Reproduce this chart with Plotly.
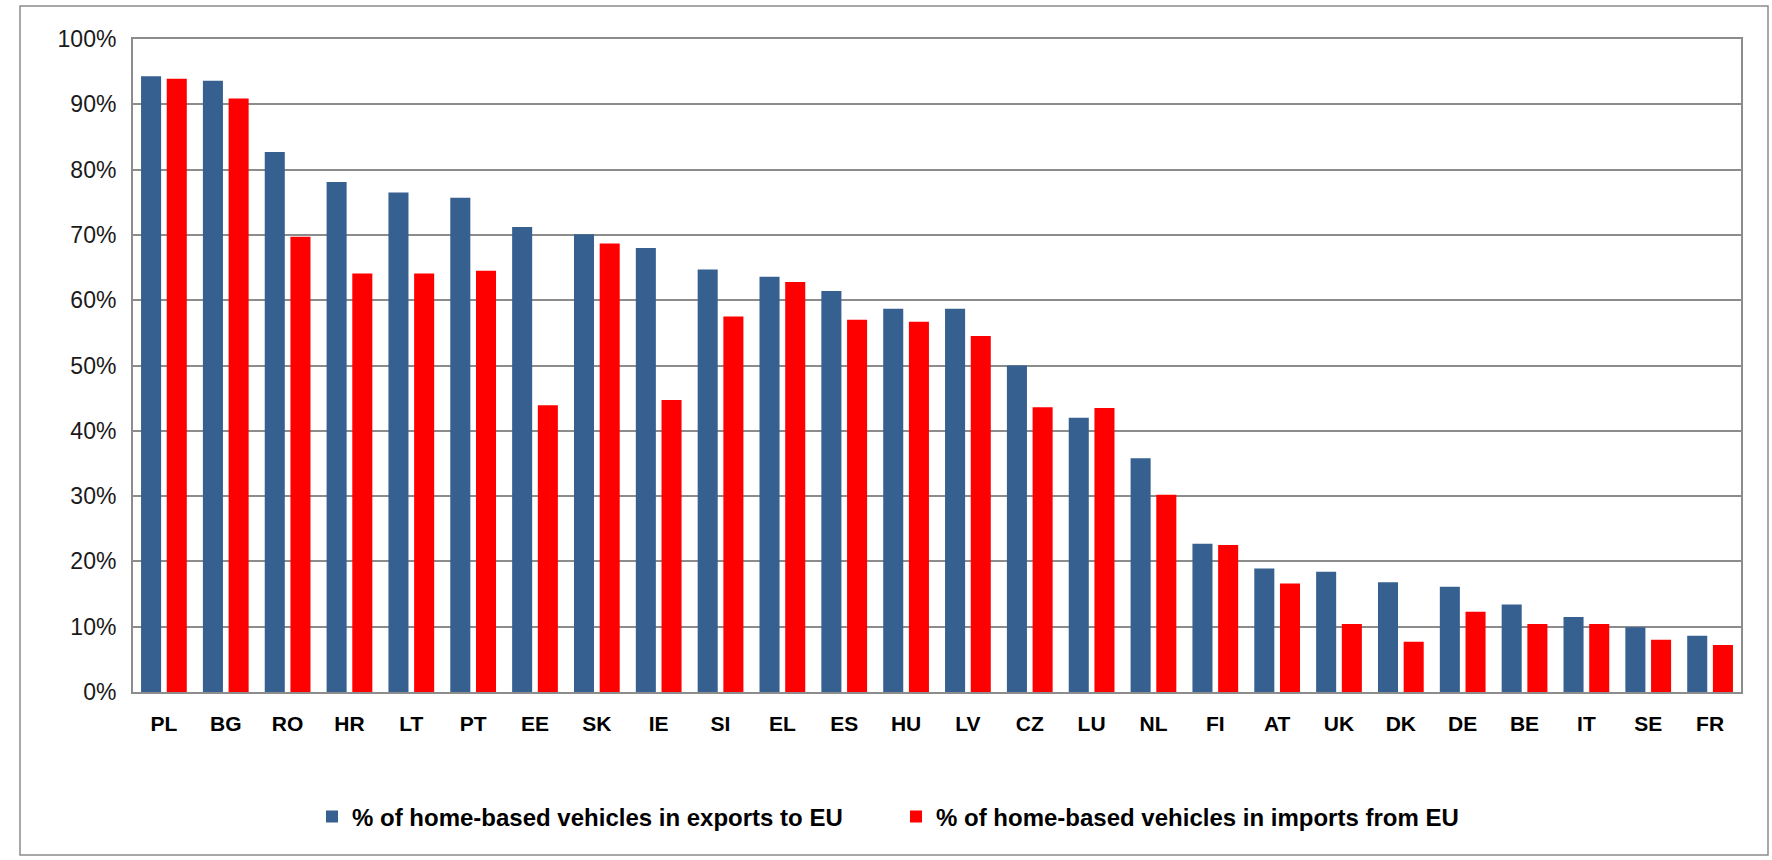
import plotly.graph_objects as go

countries = ["PL", "BG", "RO", "HR", "LT", "PT", "EE", "SK", "IE", "SI", "EL", "ES", "HU",
             "LV", "CZ", "LU", "NL", "FI", "AT", "UK", "DK", "DE", "BE", "IT", "SE", "FR"]
exports_pct = [94.3, 93.6, 82.7, 78.1, 76.5, 75.7, 71.2, 70.1, 68.0, 64.7, 63.6, 61.4, 58.7,
               58.7, 50.0, 42.0, 35.8, 22.7, 18.9, 18.4, 16.8, 16.1, 13.4, 11.5, 9.9, 8.6]
imports_pct = [93.9, 90.9, 69.7, 64.1, 64.1, 64.5, 43.9, 68.7, 44.7, 57.5, 62.8, 57.0, 56.7,
               54.5, 43.6, 43.5, 30.2, 22.5, 16.6, 10.4, 7.7, 12.3, 10.4, 10.4, 8.0, 7.2]
series_names = ["% of home-based vehicles in exports to EU",
                "% of home-based vehicles in imports from EU"]
y_ticks = [0, 10, 20, 30, 40, 50, 60, 70, 80, 90, 100]

W, H = 1772, 860
L, T = 133, 39
R = W - 1741
B = H - 692
pw, ph = W - L - R, H - T - B

fig = go.Figure()
fig.add_trace(go.Bar(x=countries, y=exports_pct, name=series_names[0],
                     marker=dict(color="#36608F", line=dict(width=0))))
fig.add_trace(go.Bar(x=countries, y=imports_pct, name=series_names[1],
                     marker=dict(color="#FF0000", line=dict(width=0))))

def px_x(p):
    return (p - L) / pw

def px_y(p):
    return (H - B - p) / ph

fig.add_shape(type="rect", xref="paper", yref="paper",
              x0=px_x(20), x1=px_x(1768), y0=px_y(855), y1=px_y(6),
              line=dict(color="#8c8c8c", width=1.5), fillcolor="rgba(0,0,0,0)", layer="below")

fig.update_layout(
    width=W, height=H,
    margin=dict(l=L, r=R, t=T, b=B, pad=0),
    paper_bgcolor="white", plot_bgcolor="white",
    barmode="group", bargap=0.169, bargroupgap=0.22,
    showlegend=True,
    legend=dict(orientation="h", x=px_x(312), xanchor="left", y=px_y(817), yanchor="middle",
                font=dict(family="Liberation Sans, Arial, sans-serif", size=24, color="#000000",
                          weight="bold"),
                entrywidth=539, entrywidthmode="pixels", traceorder="normal",
                bgcolor="rgba(0,0,0,0)"),
    font=dict(family="Liberation Sans, Arial, sans-serif", color="#000000"),
    xaxis=dict(showgrid=False, showline=True, linecolor="#8c8c8c", linewidth=2, mirror=True,
               ticks="", ticklabelstandoff=12,
               tickfont=dict(family="Liberation Sans, Arial, sans-serif", size=21,
                             color="#000000", weight="bold")),
    yaxis=dict(range=[0, 100], tickvals=y_ticks, ticktext=[f"{v}%" for v in y_ticks],
               showgrid=True, gridcolor="#8c8c8c", gridwidth=2,
               showline=True, linecolor="#8c8c8c", linewidth=2, mirror=True,
               zeroline=False, ticks="", ticklabelstandoff=10,
               tickfont=dict(family="Liberation Sans, Arial, sans-serif", size=23,
                             color="#1a1a1a")),
)

fig.write_html("out.html", config={"displayModeBar": False},
               post_script="document.body.style.margin='0';")
